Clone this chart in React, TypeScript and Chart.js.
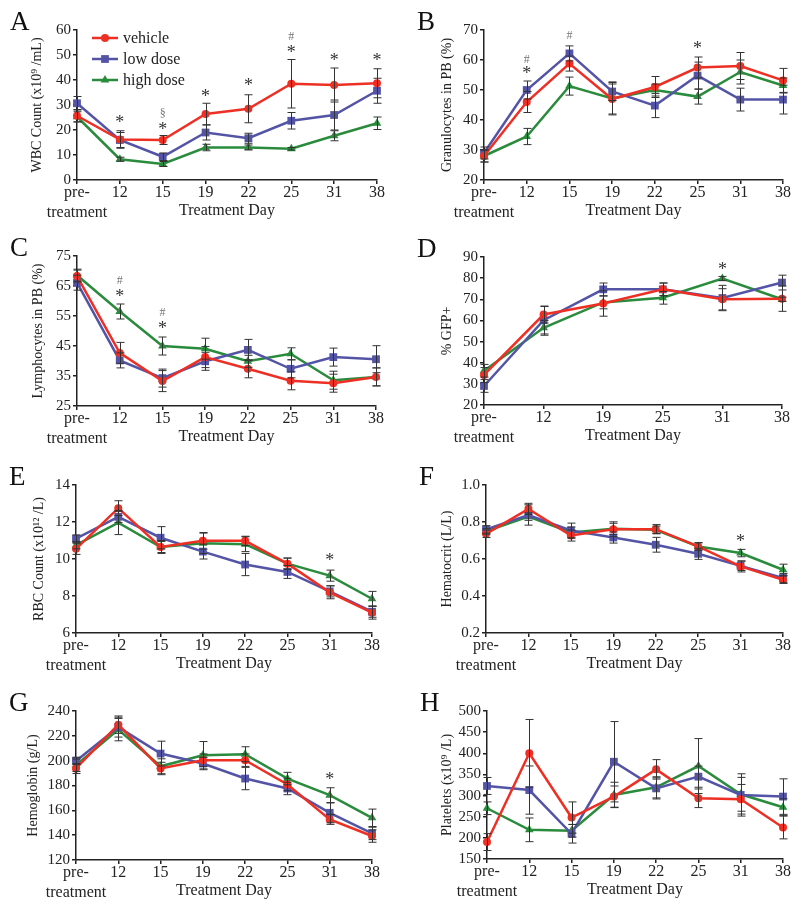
import React, { useEffect, useRef } from 'react';
import { Chart, registerables } from 'chart.js';

Chart.register(...registerables);

const FONT = "'Liberation Serif', 'Times New Roman', serif";
const RED = '#ee2f24';
const BLUE = '#5454a6';
const GREEN = '#2a8b3c';
const INK = '#222222';

const seriesNames = ['vehicle', 'low dose', 'high dose'];
const days8: (string | string[])[] = [['pre-', 'treatment'], '12', '15', '19', '22', '25', '31', '38'];
const days6: (string | string[])[] = [['pre-', 'treatment'], '12', '19', '25', '31', '38'];

// A: WBC
const wbcVehicle = [25.7, 16.2, 16.0, 26.4, 28.5, 38.5, 38.0, 38.7];
const wbcVehicleErr = [2.5, 3.5, 1.8, 4.3, 5.6, 9.7, 6.8, 5.8];
const wbcLow = [30.7, 16.0, 9.3, 19.0, 16.7, 23.7, 26.0, 35.7];
const wbcLowErr = [2.7, 3.0, 1.5, 3.0, 2.0, 3.3, 6.0, 5.0];
const wbcHigh = [25.3, 8.3, 6.4, 13.0, 13.0, 12.5, 17.7, 22.7];
const wbcHighErr = [2.0, 0.8, 1.0, 1.3, 1.0, 0.5, 2.0, 2.5];
const wbcMarks: [number, number, string][] = [[1, 24.5, '*'], [2, 27, '§'], [2, 22, '*'], [3, 35, '*'], [4, 39.3, '*'], [5, 57.5, '#'], [5, 52.7, '*'], [6, 49.3, '*'], [7, 49.3, '*']];

// B: Granulocytes
const graVehicle = [28.0, 46.0, 58.8, 47.0, 51.0, 57.5, 58.0, 53.2];
const graVehicleErr = [2.0, 3.5, 2.5, 5.0, 3.5, 3.5, 4.5, 4.0];
const graLow = [29.0, 50.0, 62.2, 49.5, 44.8, 54.8, 46.8, 46.8];
const graLowErr = [2.0, 3.0, 2.5, 3.0, 4.0, 4.5, 3.8, 4.8];
const graHigh = [28.0, 34.5, 51.3, 47.2, 50.0, 47.8, 56.0, 51.5];
const graHighErr = [2.0, 2.7, 3.0, 5.5, 2.0, 2.5, 4.0, 2.5];
const graMarks: [number, number, string][] = [[1, 60.2, '#'], [1, 56.7, '*'], [2, 68.3, '#'], [5, 65.3, '*']];

// C: Lymphocytes
const lymVehicle = [68.3, 42.7, 33.3, 41.3, 37.4, 33.4, 32.6, 34.7];
const lymVehicleErr = [2.0, 3.5, 3.5, 3.5, 3.0, 3.0, 3.0, 3.0];
const lymLow = [66.1, 40.2, 34.3, 39.9, 43.7, 37.4, 41.3, 40.6];
const lymLowErr = [2.5, 2.5, 3.0, 3.0, 3.5, 3.0, 3.0, 4.5];
const lymHigh = [68.6, 56.5, 45.0, 44.1, 39.9, 42.4, 33.6, 34.7];
const lymHighErr = [2.0, 2.5, 3.0, 3.5, 2.0, 2.0, 3.0, 3.0];
const lymMarks: [number, number, string][] = [[1, 66.9, '#'], [1, 63, '*'], [2, 56.3, '#'], [2, 52.2, '*']];

// D: GFP
const gfpVehicle = [34.2, 62.8, 68.0, 74.7, 70.0, 70.3];
const gfpVehicleErr = [3.5, 4.0, 6.0, 3.0, 5.0, 6.0];
const gfpLow = [29.0, 60.1, 74.7, 74.7, 70.6, 77.9];
const gfpLowErr = [3.0, 6.5, 3.0, 3.0, 6.0, 3.5];
const gfpHigh = [36.2, 56.5, 68.5, 70.7, 79.8, 70.0];
const gfpHighErr = [3.0, 3.5, 3.0, 3.0, 1.0, 1.0];
const gfpMarks: [number, number, string][] = [[4, 86, '*']];

// E: RBC
const rbcVehicle = [10.55, 12.75, 10.65, 10.98, 10.98, 9.75, 8.2, 7.1];
const rbcVehicleErr = [0.3, 0.4, 0.3, 0.45, 0.25, 0.3, 0.35, 0.35];
const rbcLow = [11.1, 12.28, 11.15, 10.4, 9.7, 9.3, 8.25, 7.15];
const rbcLowErr = [0.2, 0.3, 0.6, 0.4, 0.6, 0.35, 0.3, 0.3];
const rbcHigh = [10.75, 11.97, 10.65, 10.85, 10.8, 9.75, 9.1, 7.85];
const rbcHighErr = [0.2, 0.65, 0.35, 0.55, 0.4, 0.3, 0.3, 0.4];
const rbcMarks: [number, number, string][] = [[6, 10.15, '*']];

// F: Hematocrit
const hctVehicle = [0.736, 0.871, 0.727, 0.761, 0.761, 0.668, 0.56, 0.488];
const hctVehicleErr = [0.02, 0.03, 0.03, 0.04, 0.025, 0.02, 0.03, 0.02];
const hctLow = [0.76, 0.838, 0.754, 0.716, 0.677, 0.628, 0.563, 0.497];
const hctLowErr = [0.02, 0.055, 0.04, 0.03, 0.04, 0.03, 0.025, 0.025];
const hctHigh = [0.749, 0.829, 0.743, 0.763, 0.758, 0.668, 0.632, 0.542];
const hctHighErr = [0.015, 0.02, 0.03, 0.03, 0.02, 0.02, 0.02, 0.03];
const hctMarks: [number, number, string][] = [[6, 0.718, '*']];

// G: Hemoglobin
const hgbVehicle = [193.7, 229, 193.7, 200.4, 200.4, 180.8, 152.7, 139.3];
const hgbVehicleErr = [4, 7, 5, 5, 5, 5, 4, 5];
const hgbLow = [199.8, 227, 205.7, 197.7, 185.6, 177.6, 158, 141.4];
const hgbLowErr = [3, 8, 10, 5, 9, 5, 8, 5];
const hgbHigh = [196.3, 225, 195.5, 204.4, 205.2, 185.6, 172.2, 154];
const hgbHighErr = [5, 9, 6, 11, 6, 5, 6, 7];
const hgbMarks: [number, number, string][] = [[6, 188.3, '*']];

// H: Platelets
const pltVehicle = [190, 400, 248, 297.6, 362, 293.6, 291.3, 224.6];
const pltVehicleErr = [20, 80, 37, 25, 23, 22, 35, 27];
const pltLow = [322.7, 313, 209.7, 380, 317, 344.7, 301.5, 297.6];
const pltLowErr = [20, 57, 22, 95, 25, 25, 50, 42];
const pltHigh = [270, 219, 216.7, 301.5, 319.5, 369.8, 303, 272.4];
const pltHighErr = [15, 28, 15, 30, 25, 65, 40, 20];
const pltMarks: [number, number, string][] = [];

type Box = { cx: number; cy: number; L: number; R: number; T: number; B: number; titleX: number };
type PanelDef = {
  letter: string;
  yTitle: string;
  labels: (string | string[])[];
  yMin: number; yMax: number; yStep: number; decimals: number;
  series: number[][];
  errors: number[][];
  marks: [number, number, string][];
  legend: boolean;
  box: Box;
};

const COLORS = [RED, BLUE, GREEN];
const STYLES = ['circle', 'rect', 'triangle'];
const RADII = [4, 5.5, 5];

const panels: PanelDef[] = [
  { letter: 'A', yTitle: 'WBC Count (x10⁹ /mL)', labels: days8, yMin: 0, yMax: 60, yStep: 10, decimals: 0,
    series: [wbcVehicle, wbcLow, wbcHigh], errors: [wbcVehicleErr, wbcLowErr, wbcHighErr], marks: wbcMarks, legend: true,
    box: { cx: 0, cy: 0, L: 77, R: 377, T: 30, B: 180, titleX: 37 } },
  { letter: 'B', yTitle: 'Granulocytes in PB (%)', labels: days8, yMin: 20, yMax: 70, yStep: 10, decimals: 0,
    series: [graVehicle, graLow, graHigh], errors: [graVehicleErr, graLowErr, graHighErr], marks: graMarks, legend: false,
    box: { cx: 400, cy: 0, L: 484, R: 783, T: 30, B: 180, titleX: 447 } },
  { letter: 'C', yTitle: 'Lymphocytes in PB (%)', labels: days8, yMin: 25, yMax: 75, yStep: 10, decimals: 0,
    series: [lymVehicle, lymLow, lymHigh], errors: [lymVehicleErr, lymLowErr, lymHighErr], marks: lymMarks, legend: false,
    box: { cx: 0, cy: 226, L: 77, R: 376, T: 256, B: 406, titleX: 38 } },
  { letter: 'D', yTitle: '% GFP+', labels: days6, yMin: 20, yMax: 90, yStep: 10, decimals: 0,
    series: [gfpVehicle, gfpLow, gfpHigh], errors: [gfpVehicleErr, gfpLowErr, gfpHighErr], marks: gfpMarks, legend: false,
    box: { cx: 400, cy: 226, L: 484, R: 782, T: 257, B: 405, titleX: 447 } },
  { letter: 'E', yTitle: 'RBC Count (x10¹² /L)', labels: days8, yMin: 6, yMax: 14, yStep: 2, decimals: 0,
    series: [rbcVehicle, rbcLow, rbcHigh], errors: [rbcVehicleErr, rbcLowErr, rbcHighErr], marks: rbcMarks, legend: false,
    box: { cx: 0, cy: 455, L: 76, R: 372, T: 485, B: 633, titleX: 39 } },
  { letter: 'F', yTitle: 'Hematocrit (L/L)', labels: days8, yMin: 0.2, yMax: 1.0, yStep: 0.2, decimals: 1,
    series: [hctVehicle, hctLow, hctHigh], errors: [hctVehicleErr, hctLowErr, hctHighErr], marks: hctMarks, legend: false,
    box: { cx: 400, cy: 455, L: 486, R: 783, T: 485, B: 633, titleX: 447 } },
  { letter: 'G', yTitle: 'Hemoglobin (g/L)', labels: days8, yMin: 120, yMax: 240, yStep: 20, decimals: 0,
    series: [hgbVehicle, hgbLow, hgbHigh], errors: [hgbVehicleErr, hgbLowErr, hgbHighErr], marks: hgbMarks, legend: false,
    box: { cx: 0, cy: 681, L: 76, R: 372, T: 711, B: 860, titleX: 33 } },
  { letter: 'H', yTitle: 'Platelets (x10⁹ /L)', labels: days8, yMin: 150, yMax: 500, yStep: 50, decimals: 0,
    series: [pltVehicle, pltLow, pltHigh], errors: [pltVehicleErr, pltLowErr, pltHighErr], marks: pltMarks, legend: false,
    box: { cx: 400, cy: 681, L: 487, R: 783, T: 711, B: 859, titleX: 447 } },
];

function drawMarker(ctx: CanvasRenderingContext2D, style: string, x: number, y: number, r: number, color: string) {
  ctx.save();
  ctx.fillStyle = color;
  ctx.beginPath();
  if (style === 'circle') {
    ctx.arc(x, y, r, 0, Math.PI * 2);
  } else if (style === 'rect') {
    const s = Math.SQRT1_2 * r;
    ctx.rect(x - s, y - s, 2 * s, 2 * s);
  } else {
    const h = r * 1.5;
    const half = r * Math.sin(Math.PI / 3);
    ctx.moveTo(x, y - r);
    ctx.lineTo(x + half, y - r + h);
    ctx.lineTo(x - half, y - r + h);
    ctx.closePath();
  }
  ctx.fill();
  ctx.restore();
}

function Panel({ def }: { def: PanelDef }) {
  const ref = useRef<HTMLCanvasElement>(null);
  const { box } = def;
  const width = 400;
  const height = box.B - box.cy + 46;

  useEffect(() => {
    if (!ref.current) return;
    const padLeft = box.titleX - box.cx - 8.4;
    const yW = box.L - box.cx - padLeft;

    const overlay = {
      id: 'overlay',
      afterDatasetsDraw(chart: any) {
        const { ctx, scales } = chart;
        const xs = scales.x;
        const ys = scales.y;
        ctx.save();
        ctx.strokeStyle = '#333';
        ctx.lineWidth = 1;
        def.series.forEach((vals, si) => {
          const errs = def.errors[si];
          vals.forEach((v, i) => {
            const x = Math.round(xs.getPixelForValue(i)) + 0.5;
            const yt = ys.getPixelForValue(v + errs[i]);
            const yb = ys.getPixelForValue(v - errs[i]);
            ctx.beginPath();
            ctx.moveTo(x, yt);
            ctx.lineTo(x, yb);
            ctx.moveTo(x - 4, yt);
            ctx.lineTo(x + 4, yt);
            ctx.moveTo(x - 4, yb);
            ctx.lineTo(x + 4, yb);
            ctx.stroke();
          });
        });
        ctx.restore();
      },
      afterDraw(chart: any) {
        const { ctx, scales, chartArea } = chart;
        const xs = scales.x;
        const ys = scales.y;
        ctx.save();
        // significance marks
        def.marks.forEach(([i, v, t]) => {
          const big = t === '*';
          ctx.font = `${big ? 18 : 12}px ${FONT}`;
          ctx.fillStyle = big ? '#333' : '#777';
          ctx.textAlign = 'center';
          ctx.textBaseline = 'alphabetic';
          const m = ctx.measureText(t);
          const x = xs.getPixelForValue(i);
          const y = ys.getPixelForValue(v) + (m.actualBoundingBoxAscent - m.actualBoundingBoxDescent) / 2;
          ctx.fillText(t, x, y);
        });
        // panel letter
        ctx.font = `27px ${FONT}`;
        ctx.fillStyle = '#111';
        ctx.textAlign = 'left';
        ctx.textBaseline = 'alphabetic';
        ctx.fillText(def.letter, chartArea.left - 67, chartArea.top);
        // legend
        if (def.legend) {
          seriesNames.forEach((name, k) => {
            const y = chartArea.top + 8 + k * 21;
            const x0 = chartArea.left + 15;
            const x1 = chartArea.left + 41;
            ctx.strokeStyle = COLORS[k];
            ctx.lineWidth = 2.5;
            ctx.beginPath();
            ctx.moveTo(x0, y);
            ctx.lineTo(x1, y);
            ctx.stroke();
            drawMarker(ctx, STYLES[k], (x0 + x1) / 2, y, RADII[k], COLORS[k]);
            ctx.font = `16px ${FONT}`;
            ctx.fillStyle = INK;
            ctx.textBaseline = 'middle';
            ctx.textAlign = 'left';
            ctx.fillText(name, chartArea.left + 46, y + 1);
          });
        }
        ctx.restore();
      },
    };

    const chart = new Chart(ref.current, {
      type: 'line',
      data: {
        labels: def.labels as any,
        datasets: def.series.map((vals, si) => ({
          label: seriesNames[si],
          data: vals,
          borderColor: COLORS[si],
          backgroundColor: COLORS[si],
          borderWidth: 2.5,
          pointStyle: STYLES[si] as any,
          pointRadius: RADII[si],
          pointBorderWidth: 0,
          pointBackgroundColor: COLORS[si],
          tension: 0,
          fill: false,
          clip: false as any,
        })),
      },
      options: {
        responsive: false,
        animation: false,
        events: [],
        layout: { padding: { left: padLeft, right: box.cx + 400 - box.R, top: box.T - box.cy, bottom: 6 } },
        plugins: { legend: { display: false }, tooltip: { enabled: false } },
        scales: {
          x: {
            type: 'category',
            offset: false,
            grid: { drawOnChartArea: false, drawTicks: true, tickLength: 4, color: INK, lineWidth: 1.5 },
            border: { color: INK, width: 1.5 },
            ticks: { autoSkip: false, maxRotation: 0, minRotation: 0, padding: -1, color: INK, font: { family: FONT, size: 16, lineHeight: 1.25 } },
            title: { display: true, text: 'Treatment Day', color: INK, font: { family: FONT, size: 16, lineHeight: 1.2 }, padding: 0 },
            afterFit: (s: any) => { s.height = 40; },
          },
          y: {
            type: 'linear',
            min: def.yMin,
            max: def.yMax,
            grid: { drawOnChartArea: false, drawTicks: true, tickLength: 4, color: INK, lineWidth: 1.5 },
            border: { color: INK, width: 1.5 },
            ticks: {
              stepSize: def.yStep,
              padding: 2,
              color: INK,
              font: { family: FONT, size: 15 },
              callback: (v: any) => Number(v).toFixed(def.decimals),
            },
            title: { display: true, text: def.yTitle, color: INK, font: { family: FONT, size: 14, lineHeight: 1.2 }, padding: 0 },
            afterFit: (s: any) => { s.width = yW; },
          },
        },
      } as any,
      plugins: [overlay],
    });
    return () => chart.destroy();
  }, [def]);

  return (
    <canvas
      ref={ref}
      width={width}
      height={height}
      style={{ position: 'absolute', left: box.cx, top: box.cy, width, height }}
    />
  );
}

export default function App() {
  return (
    <div style={{ position: 'absolute', left: 0, top: 0, width: 800, height: 910, background: '#fff', overflow: 'hidden' }}>
      {panels.map((p) => (
        <Panel key={p.letter} def={p} />
      ))}
    </div>
  );
}
